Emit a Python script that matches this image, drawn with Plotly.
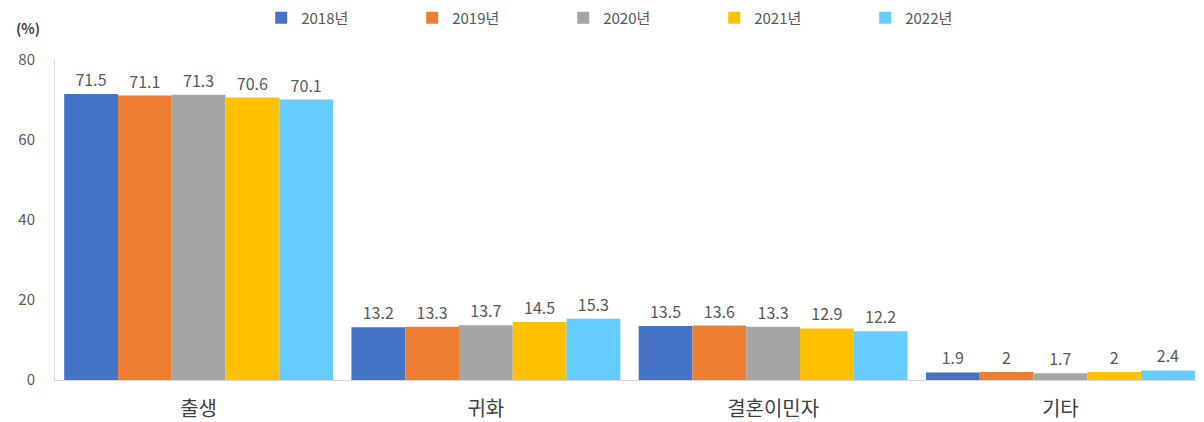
import plotly.graph_objects as go

categories = ["출생", "귀화", "결혼이민자", "기타"]
years = ["2018년", "2019년", "2020년", "2021년", "2022년"]
values = {
    "2018년": [71.5, 13.2, 13.5, 1.9],
    "2019년": [71.1, 13.3, 13.6, 2],
    "2020년": [71.3, 13.7, 13.3, 1.7],
    "2021년": [70.6, 14.5, 12.9, 2],
    "2022년": [70.1, 15.3, 12.2, 2.4],
}
colors = ["#4472C4", "#ED7D31", "#A5A5A5", "#FFC000", "#66CCFF"]
y_ticks = [0, 20, 40, 60, 80]

font = "Noto Sans CJK KR"
fig = go.Figure()
for y, c in zip(years, colors):
    fig.add_trace(go.Bar(
        name=y, x=categories, y=values[y], marker_color=c, marker_line_width=0,
        text=[str(v) for v in values[y]], textposition="outside",
        textfont=dict(size=16, color="#595959", family=font), cliponaxis=False,
    ))

fig.update_layout(
    width=1196, height=414, barmode="group", bargap=0.064, bargroupgap=0,
    margin=dict(l=47, r=0, t=52, b=42, autoexpand=False),
    plot_bgcolor="white", paper_bgcolor="white",
    font=dict(family=font, color="#404040"),
    legend=dict(orientation="h", x=0.508, xanchor="center", y=0.976, yanchor="middle",
                yref="container", font=dict(size=15, color="#595959", family=font),
                itemwidth=30, entrywidth=106),
    showlegend=True,
)
fig.update_xaxes(showline=True, linecolor="#D9D9D9", linewidth=1, ticks="",
                 tickfont=dict(size=20, color="#404040", family=font), ticklabelstandoff=11)
fig.update_yaxes(range=[0, 80], tickvals=y_ticks, showgrid=False, showline=True,
                 linecolor="#D9D9D9", zeroline=False, ticks="",
                 tickfont=dict(size=15, color="#595959", family=font), ticklabelstandoff=16)
fig.add_annotation(text="<b>(%)</b>", xref="paper", yref="paper", x=-0.011, y=1.1,
                   xanchor="right", yanchor="middle", showarrow=False,
                   font=dict(size=14, color="#404040", family=font))
fig.write_html("out.html")
